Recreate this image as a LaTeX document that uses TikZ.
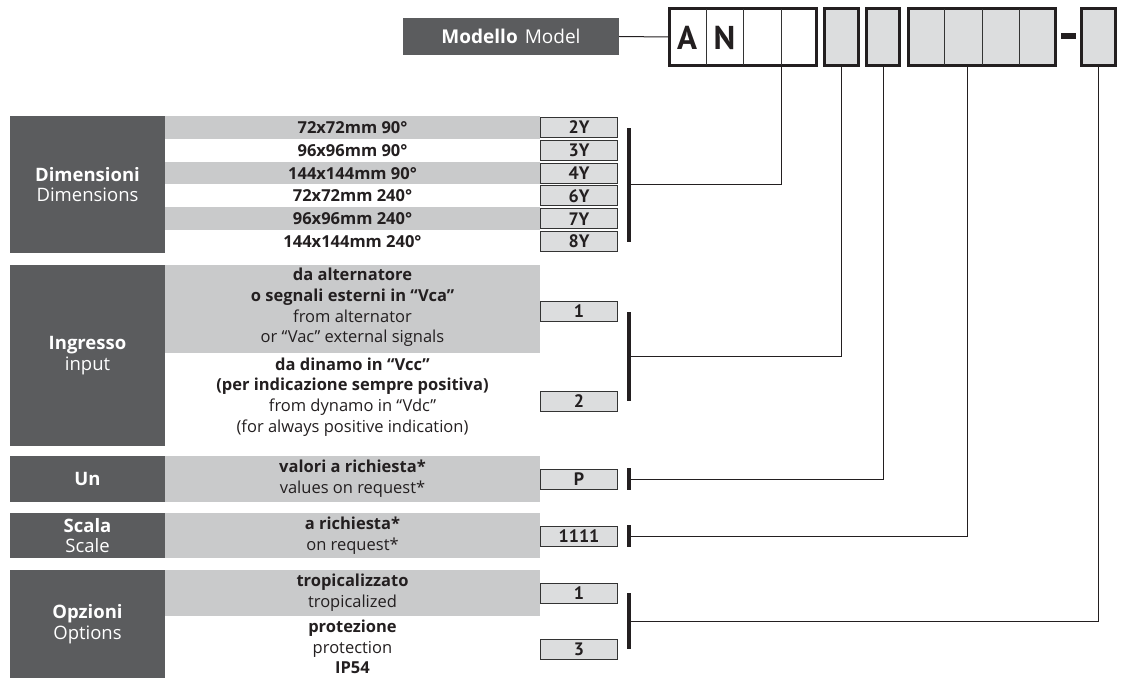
\documentclass[tikz,border=0pt]{standalone}
\usepackage{fontspec}
\setmainfont{Open Sans}
\newfontfamily\codefont{PT Sans}
\definecolor{dgray}{HTML}{5B5C5E}
\definecolor{lgray}{HTML}{C9CACB}
\definecolor{cgray}{HTML}{DCDDDE}
\definecolor{bk}{HTML}{231F20}
\definecolor{bdr}{HTML}{333333}
\begin{document}
\begin{tikzpicture}[x=1pt,y=-1pt]
\tikzset{
 darkbox/.style={fill=dgray, draw=none, inner sep=0pt, text=white, align=center, font=\fontsize{18.5}{20.5}\selectfont},
 rowtext/.style={align=center, font=\fontsize{16.5}{20.8}\selectfont, text=bk, inner sep=0pt},
 codebox/.style={fill=cgray, draw=bdr, line width=1pt, minimum width=77pt, minimum height=20pt, inner sep=0pt, font=\codefont\fontsize{18}{18}\selectfont\bfseries, text=bk},
 bar/.style={fill=bk, draw=none, minimum width=4pt, inner sep=0pt},
 conn/.style={draw=bk, line width=1pt},
 slot/.style={fill=cgray, draw=bk, line width=3.4pt, inner sep=0pt, minimum height=56.6pt},
 divider/.style={draw=bdr, line width=0.8pt},
 bigletter/.style={font=\codefont\fontsize{33}{33}\selectfont\bfseries, text=bk, inner sep=0pt},
}
\useasboundingbox (0,0) rectangle (1121,679);

% ---------- header ----------
\node[darkbox, minimum width=216pt, minimum height=37pt, font=\fontsize{19}{22}\selectfont] (model) at (511,36.5) {\textbf{Modello}\hspace{7pt}Model};
\node[slot, fill=white, minimum width=146.6pt] (an) at (743,37) {};
\node[slot, minimum width=33.6pt] (b2) at (841.5,37) {};
\node[slot, minimum width=32.6pt] (b3) at (883,37) {};
\node[slot, minimum width=146.6pt] (b4) at (982,37) {};
\node[slot, minimum width=33.6pt] (b5) at (1098.5,37) {};
\foreach \xx in {706,743,781}{\draw[divider] (\xx,8.7) -- (\xx,65.3);}
\foreach \xx in {944,982,1019}{\draw[divider] (\xx,8.7) -- (\xx,65.3);}
\node[bigletter] (la) at (687,38) {A};
\node[bigletter] (ln) at (724.5,38) {N};
\fill[bk] (1061,33.5) rectangle (1076,39.5);
\draw[conn] (model.east) -- (an.west);

% ---------- left dark boxes ----------
\node[darkbox, minimum width=155pt, minimum height=137pt] (ddim) at (87.5,184.5) {\textbf{Dimensioni}\\Dimensions};
\node[darkbox, minimum width=155pt, minimum height=181pt] (din) at (87.5,355.5) {\textbf{Ingresso}\\input};
\node[darkbox, minimum width=155pt, minimum height=46pt] (dun) at (87.5,479) {\textbf{Un}};
\node[darkbox, minimum width=155pt, minimum height=45pt] (dsc) at (87.5,535.5) {\textbf{Scala}\\Scale};
\node[darkbox, minimum width=155pt, minimum height=108pt] (dop) at (87.5,624) {\textbf{Opzioni}\\Options};

% ---------- stripes ----------
\fill[lgray] (165,116) rectangle (540,138.8);
\fill[lgray] (165,161.7) rectangle (540,184.5);
\fill[lgray] (165,207.3) rectangle (540,230.2);
\fill[lgray] (165,265) rectangle (540,353);
\fill[lgray] (165,456) rectangle (540,502);
\fill[lgray] (165,513) rectangle (540,558);
\fill[lgray] (165,570) rectangle (540,616);

% ---------- row texts ----------
\node[rowtext] (t1) at (352.5,127.4) {\textbf{72x72mm 90°}};
\node[rowtext] (t2) at (352.5,150.3) {\textbf{96x96mm 90°}};
\node[rowtext] (t3) at (352.5,173.1) {\textbf{144x144mm 90°}};
\node[rowtext] (t4) at (352.5,195.9) {\textbf{72x72mm 240°}};
\node[rowtext] (t5) at (352.5,218.8) {\textbf{96x96mm 240°}};
\node[rowtext] (t6) at (352.5,241.6) {\textbf{144x144mm 240°}};
\node[rowtext] (ti1) at (352.5,307.5) {\textbf{da alternatore}\\\textbf{o segnali esterni in “Vca”}\\from alternator\\or “Vac” external signals};
\node[rowtext] (ti2) at (352.5,397) {\textbf{da dinamo in “Vcc”}\\\textbf{(per indicazione sempre positiva)}\\from dynamo in “Vdc”\\(for always positive indication)};
\node[rowtext] (tu) at (352.5,479) {\textbf{valori a richiesta*}\\values on request*};
\node[rowtext] (ts) at (352.5,536) {\textbf{a richiesta*}\\on request*};
\node[rowtext] (to1) at (352.5,593) {\textbf{tropicalizzato}\\tropicalized};
\node[rowtext] (to2) at (352.5,647) {\textbf{protezione}\\protection\\\textbf{IP54}};

% ---------- code boxes ----------
\node[codebox] (c2y) at (579,127.4) {2Y};
\node[codebox] (c3y) at (579,150.3) {3Y};
\node[codebox] (c4y) at (579,173.1) {4Y};
\node[codebox] (c6y) at (579,195.9) {6Y};
\node[codebox] (c7y) at (579,218.8) {7Y};
\node[codebox] (c8y) at (579,241.6) {8Y};
\node[codebox] (ci1) at (579,311) {1};
\node[codebox] (ci2) at (579,401) {2};
\node[codebox] (cp) at (579,479.5) {P};
\node[codebox] (cs) at (579,536.5) {1111};
\node[codebox] (co1) at (579,593) {1};
\node[codebox] (co3) at (579,649.5) {3};

% ---------- bars ----------
\node[bar, minimum height=114pt] (bdim) at (629,185) {};
\node[bar, minimum height=89pt] (bin) at (629,356.5) {};
\node[bar, minimum height=22pt] (bun) at (629,479) {};
\node[bar, minimum height=22pt] (bsc) at (629,536) {};
\node[bar, minimum height=56pt] (bop) at (629,621) {};

% ---------- connectors ----------
\coordinate (k1) at (781,0);
\coordinate (k4) at (967,0);
\draw[conn] (an.south -| k1) |- (bdim.east);
\draw[conn] (b2.south) |- (bin.east);
\draw[conn] (b3.south) |- (bun.east);
\draw[conn] (b4.south -| k4) |- (bsc.east);
\draw[conn] (b5.south) |- (bop.east);
\end{tikzpicture}
\end{document}
